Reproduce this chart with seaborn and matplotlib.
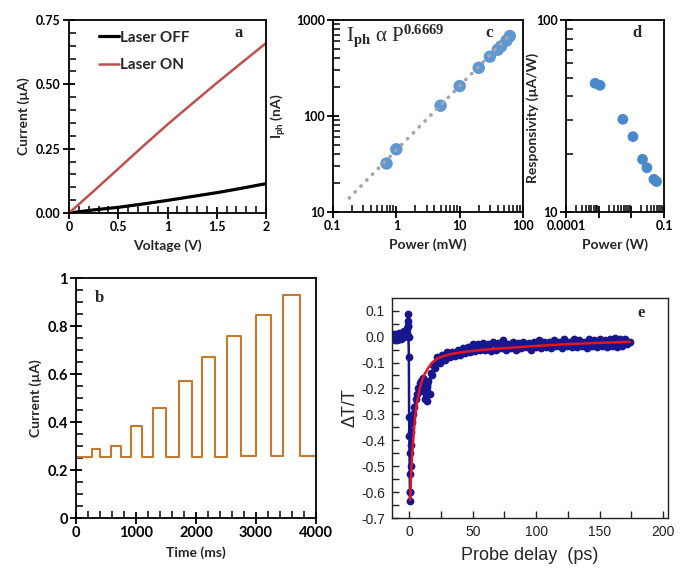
import matplotlib
matplotlib.use("Agg")
import numpy as np
import pandas as pd
import matplotlib.pyplot as plt
import seaborn as sns
from matplotlib.ticker import FixedLocator, MultipleLocator, LogLocator, NullFormatter

# ---- panel a: I-V curves
volt = [0, 0.25, 0.5, 0.75, 1.0, 1.25, 1.5, 1.75, 2.0]
i_off = [0, 0.012, 0.022, 0.035, 0.049, 0.064, 0.079, 0.096, 0.114]
i_on = [0, 0.085, 0.172, 0.259, 0.344, 0.425, 0.505, 0.583, 0.66]
a_xticks = [0, 0.5, 1, 1.5, 2]
a_xlabels = ["0", "0.5", "1", "1.5", "2"]
a_yticks = [0, 0.25, 0.5, 0.75]
a_ylabels = ["0.00", "0.25", "0.50", "0.75"]

# ---- panel b: photo-response pulses
pulse_start = [265, 590, 915, 1280, 1715, 2095, 2510, 3000, 3445]
pulse_end = [405, 745, 1105, 1494, 1925, 2320, 2745, 3245, 3735]
pulse_top = [0.286, 0.300, 0.385, 0.458, 0.572, 0.671, 0.760, 0.845, 0.930]
base_level = [0.253, 0.254, 0.254, 0.255, 0.255, 0.255, 0.256, 0.257, 0.258, 0.258]
b_xticks = [0, 1000, 2000, 3000, 4000]
b_xlabels = ["0", "1000", "2000", "3000", "4000"]
b_yticks = [0, 0.2, 0.4, 0.6, 0.8, 1.0]
b_ylabels = ["0", "0.2", "0.4", "0.6", "0.8", "1"]

# ---- panel c: photocurrent vs power
power_mw = [0.7, 1, 5, 10, 20, 30, 40, 45, 55, 62]
iph_na = [32, 45, 128, 205, 318, 415, 490, 530, 610, 680]
fit_power = [0.18, 62]
fit_iph = [14, 700]
c_xticks = [0.1, 1, 10, 100]
c_xlabels = ["0.1", "1", "10", "100"]
c_yticks = [10, 100, 1000]
c_ylabels = ["10", "100", "1000"]

# ---- panel d: responsivity
power_w = [0.00078, 0.0011, 0.0055, 0.0112, 0.022, 0.030, 0.049, 0.059]
resp = [46.8, 45.7, 30.4, 24.7, 18.8, 17.0, 14.8, 14.4]
d_xticks = [0.0001, 0.001, 0.01, 0.1]
d_xlabels = ["0.0001", "", "", "0.1"]
d_yticks = [10, 100]
d_ylabels = ["10", "100"]

# ---- panel e: transient transmission
tr_delay = ([-14 + 0.5 * k for k in range(26)]
            + [-1.2, -1.0, -0.9, -0.8, -0.6, -0.4, -0.2, 0.0, 0.2, 0.3, 0.4, 0.5, 0.7, 0.9, 1.2, 1.5]
            + list(range(2, 20))
            + list(range(20, 176, 2)))
tr_signal = ([0.005, -0.010, 0.012, -0.005, 0.008, -0.015, 0.003, 0.010, -0.012, 0.006,
              -0.004, 0.014, -0.010, 0.004, 0.012, -0.008, 0.010, -0.002, 0.016, 0.000,
              0.020, 0.005, 0.025, 0.010, 0.030, 0.015]
             + [0.04, 0.086, 0.06, 0.04, 0.0, -0.08, -0.31, -0.385, -0.45, -0.53, -0.60,
                -0.635, -0.60, -0.50, -0.42, -0.37]
             + [-0.33, -0.30, -0.27, -0.24, -0.22, -0.20, -0.18, -0.17, -0.21, -0.16,
                -0.24, -0.19, -0.25, -0.17, -0.22, -0.14, -0.15, -0.11]
             + [-0.12, -0.08, -0.10, -0.07, -0.09, -0.06, -0.08, -0.06, -0.075, -0.05,
                -0.07, -0.045, -0.065, -0.04, -0.06, -0.03, -0.055, -0.03, -0.05, -0.025,
                -0.05, -0.03, -0.055, -0.02, -0.05, -0.025, -0.045, -0.015, -0.05, -0.03,
                -0.045, -0.02, -0.05, -0.025, -0.045, -0.02, -0.04, -0.025, -0.05, -0.02,
                -0.04, -0.015, -0.045, -0.02, -0.04, -0.02, -0.045, -0.015, -0.035, -0.02,
                -0.045, -0.01, -0.035, -0.02, -0.04, -0.01, -0.04, -0.015, -0.035, -0.02,
                -0.045, -0.01, -0.035, -0.015, -0.04, -0.01, -0.035, -0.015, -0.04, -0.01,
                -0.035, -0.005, -0.04, -0.01, -0.035, -0.01, -0.03, -0.02])
fit_delay = [0.6, 1, 1.5, 2, 3, 4, 5, 6, 8, 10, 12, 15, 18, 22, 27, 35, 45, 60, 80, 100, 125, 150, 174]
fit_signal = [-0.63, -0.58, -0.52, -0.47, -0.40, -0.34, -0.29, -0.255, -0.205, -0.17, -0.145,
              -0.12, -0.10, -0.085, -0.075, -0.065, -0.058, -0.05, -0.043, -0.036, -0.029,
              -0.024, -0.02]
e_xticks = [0, 50, 100, 150, 200]
e_xlabels = ["0", "50", "100", "150", "200"]
e_yticks = [-0.7, -0.6, -0.5, -0.4, -0.3, -0.2, -0.1, 0.0, 0.1]
e_ylabels = ["-0.7", "-0.6", "-0.5", "-0.4", "-0.3", "-0.2", "-0.1", "0.0", "0.1"]

sns.set_theme(style="ticks")
plt.rcParams["font.family"] = ["Lato", "DejaVu Sans"]
plt.rcParams["font.weight"] = "bold"
plt.rcParams["axes.labelweight"] = "bold"
plt.rcParams["mathtext.fontset"] = "custom"
plt.rcParams["mathtext.rm"] = "Liberation Serif"
plt.rcParams["mathtext.it"] = "Liberation Serif:italic"
plt.rcParams["mathtext.bf"] = "Lato:bold"

fig = plt.figure(figsize=(6.85, 5.87), dpi=100)
W, H = 685.0, 587.0


def box(l, r, t, b):
    return [l / W, 1 - b / H, (r - l) / W, (b - t) / H]


ax_a = fig.add_axes(box(69, 266, 20, 213))
ax_c = fig.add_axes(box(333, 523, 20, 212))
ax_d = fig.add_axes(box(566, 664, 20, 212))
ax_b = fig.add_axes(box(76, 316, 278, 518))
ax_e = fig.add_axes(box(392, 668, 298, 518))

TICK_FS = 9
LAB_FS = 10
letter_kw = dict(family="Liberation Serif", fontweight="bold", fontsize=12)


def style_excel(ax):
    for s in ax.spines.values():
        s.set_visible(True)
        s.set_color("black")
        s.set_linewidth(1.3)
    for lab in ax.get_xticklabels() + ax.get_yticklabels():
        lab.set_fontweight("bold")


# ---- a
sns.lineplot(x=volt, y=i_off, color="black", linewidth=2.3, label="Laser OFF", ax=ax_a)
sns.lineplot(x=volt, y=i_on, color="#c0504d", linewidth=1.8, label="Laser ON", ax=ax_a)
ax_a.set_xlim(0, 2)
ax_a.set_ylim(0, 0.75)
ax_a.set_xticks(a_xticks, a_xlabels)
ax_a.set_yticks(a_yticks, a_ylabels)
ax_a.xaxis.set_minor_locator(MultipleLocator(0.1))
ax_a.yaxis.set_minor_locator(MultipleLocator(0.05))
ax_a.set_xlabel("Voltage (V)", fontsize=LAB_FS, labelpad=4)
ax_a.set_ylabel("Current (µA)", fontsize=LAB_FS, labelpad=4)
ax_a.legend(loc="upper left", bbox_to_anchor=(0.1, 1.0), frameon=False, handlelength=1.3,
            handletextpad=0.05, labelspacing=0.9, borderaxespad=0.3,
            prop={"family": "Lato", "weight": "bold", "size": 11})
ax_a.text(1.72, 0.70, "a", ha="center", va="center", **letter_kw)
style_excel(ax_a)

# ---- b
bt, bi = [0], [base_level[0]]
for k in range(len(pulse_start)):
    bt += [pulse_start[k], pulse_start[k], pulse_end[k], pulse_end[k]]
    bi += [base_level[k], pulse_top[k], pulse_top[k], base_level[k + 1]]
bt.append(4000)
bi.append(base_level[-1])
sns.lineplot(x=bt, y=bi, sort=False, estimator=None, color="#c47a2c", linewidth=1.5, ax=ax_b)
ax_b.set_xlim(0, 4000)
ax_b.set_ylim(0, 1)
ax_b.set_xticks(b_xticks, b_xlabels)
ax_b.set_yticks(b_yticks, b_ylabels)
ax_b.xaxis.set_minor_locator(MultipleLocator(200))
ax_b.yaxis.set_minor_locator(MultipleLocator(0.05))
ax_b.set_xlabel("Time (ms)", fontsize=LAB_FS, labelpad=4)
ax_b.set_ylabel("Current (µA)", fontsize=LAB_FS, labelpad=4)
ax_b.text(390, 0.915, "b", ha="center", va="center", **letter_kw)
style_excel(ax_b)

# ---- c
ax_c.set_xscale("log")
ax_c.set_yscale("log")
sns.scatterplot(x=power_mw, y=iph_na, s=80, color="#5f97d3", edgecolor="none", ax=ax_c, zorder=2)
sns.lineplot(x=fit_power, y=fit_iph, color="#a5a5a5", linewidth=2.6, ax=ax_c, zorder=3)
ax_c.lines[-1].set_dashes([0.1, 2.2])
ax_c.lines[-1].set_dash_capstyle("round")
ax_c.set_xlim(0.1, 100)
ax_c.set_ylim(10, 1000)
ax_c.xaxis.set_major_locator(FixedLocator(c_xticks))
ax_c.yaxis.set_major_locator(FixedLocator(c_yticks))
ax_c.set_xticklabels(c_xlabels)
ax_c.set_yticklabels(c_ylabels)
ax_c.xaxis.set_minor_locator(LogLocator(base=10, subs=range(2, 10)))
ax_c.yaxis.set_minor_locator(LogLocator(base=10, subs=range(2, 10)))
ax_c.xaxis.set_minor_formatter(NullFormatter())
ax_c.yaxis.set_minor_formatter(NullFormatter())
ax_c.set_xlabel("Power (mW)", fontsize=LAB_FS, labelpad=4)
ax_c.set_ylabel(r"I$_{\mathbf{ph}}$ (nA)", fontsize=LAB_FS)
ax_c.yaxis.set_label_coords(-0.235, 0.5)
ax_c.text(0.07, 0.92, r"I$_{\mathrm{ph}}$ α P$^{\mathrm{0.6669}}$", transform=ax_c.transAxes,
          family="Liberation Serif", fontweight="normal", fontsize=15, ha="left", va="center")
ax_c.text(0.82, 0.93, "c", transform=ax_c.transAxes, ha="center", va="center", **letter_kw)
style_excel(ax_c)

# ---- d
ax_d.set_xscale("log")
ax_d.set_yscale("log")
sns.scatterplot(x=power_w, y=resp, s=60, color="#4a88cc", edgecolor="none", ax=ax_d)
ax_d.set_xlim(0.0001, 0.1)
ax_d.set_ylim(10, 100)
ax_d.xaxis.set_major_locator(FixedLocator(d_xticks))
ax_d.yaxis.set_major_locator(FixedLocator(d_yticks))
ax_d.set_xticklabels(d_xlabels)
ax_d.set_yticklabels(d_ylabels)
ax_d.xaxis.set_minor_locator(LogLocator(base=10, subs=range(2, 10)))
ax_d.yaxis.set_minor_locator(LogLocator(base=10, subs=range(2, 10)))
ax_d.xaxis.set_minor_formatter(NullFormatter())
ax_d.yaxis.set_minor_formatter(NullFormatter())
ax_d.set_xlabel("Power (W)", fontsize=LAB_FS, labelpad=4)
ax_d.set_ylabel("Responsivity (µA/W)", fontsize=LAB_FS)
ax_d.yaxis.set_label_coords(-0.28, 0.49)
ax_d.text(0.72, 0.93, "d", transform=ax_d.transAxes, ha="center", va="center", **letter_kw)
style_excel(ax_d)

# ---- e
sns.lineplot(x=tr_delay, y=tr_signal, sort=False, estimator=None, color="#16168f",
             linewidth=1.8, marker="o", markersize=5.6, markeredgewidth=0, ax=ax_e)
sns.lineplot(x=fit_delay, y=fit_signal, color="#e8141e", linewidth=1.8, ax=ax_e)
ax_e.set_xlim(-13.7, 204)
ax_e.set_ylim(-0.7, 0.149)
ax_e.set_xticks(e_xticks, e_xlabels)
ax_e.set_yticks(e_yticks, e_ylabels)
ax_e.xaxis.set_minor_locator(MultipleLocator(25))
ax_e.yaxis.set_minor_locator(MultipleLocator(0.05))
for s in ax_e.spines.values():
    s.set_visible(True)
    s.set_color("#222222")
    s.set_linewidth(1.0)
for lab in ax_e.get_xticklabels() + ax_e.get_yticklabels():
    lab.set_family("Liberation Sans")
    lab.set_fontweight("normal")
ax_e.set_xlabel("Probe delay  (ps)", family="Liberation Sans", fontweight="normal",
                fontsize=13, labelpad=6)
ax_e.set_ylabel("ΔT/T", family="Liberation Sans", fontweight="normal", fontsize=13, labelpad=2)
ax_e.text(183, 0.09, "e", ha="center", va="center", **letter_kw)

# ticks last, after all locators and labels are in place
for ax in [ax_a, ax_b, ax_c, ax_d]:
    ax.tick_params(which="both", bottom=True, left=True, top=False, right=False)
    ax.tick_params(which="major", direction="inout", length=8, width=1.3,
                   colors="black", labelsize=TICK_FS, pad=2)
    ax.tick_params(which="minor", direction="in", length=5, width=1.1, colors="black")
ax_b.tick_params(labelsize=10.5)
ax_e.tick_params(which="both", bottom=True, left=True, top=False, right=False,
                 direction="in", colors="#222222", width=1.0)
ax_e.tick_params(which="major", length=5, labelsize=10, pad=5)
ax_e.tick_params(which="minor", length=5)

fig.savefig("out.png", dpi=100)
